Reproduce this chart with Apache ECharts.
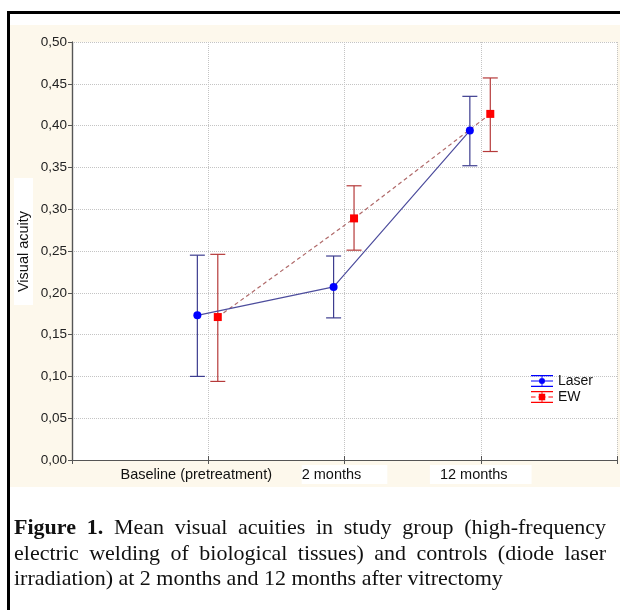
<!DOCTYPE html>
<html lang="en">
<head>
  <meta charset="UTF-8">
  <title>Visual acuity</title>
  <script src="https://cdn.jsdelivr.net/npm/echarts@6/dist/echarts.min.js"></script>
  <style>
    body { margin: 0; background: #fff; }
    #frame {
      position: absolute; left: 7px; top: 11px; width: 613px; height: 599px;
      border-left: 3px solid #000; border-top: 3px solid #000;
    }
    #cream {
      position: absolute; left: 10px; top: 25px; width: 610px; height: 462px;
      background: #fdf8ec;
    }
    #chart { position: absolute; left: 0; top: 0; width: 620px; height: 610px; }
    #caption {
      position: absolute; left: 14px; top: 514px; width: 592px;
      font-family: "Liberation Serif", "Times New Roman", serif;
      font-size: 22px; line-height: 25.5px; color: #111;
      text-align: justify;
    }
  </style>
</head>
<body>
  <div id="frame"></div>
  <div id="cream"></div>
  <div id="chart"></div>
  <div id="caption"><b>Figure 1.</b> Mean visual acuities in study group (high-frequency electric welding of biological tissues) and controls (diode laser irradiation) at 2 months and 12 months after vitrectomy</div>

  <script>
    // data
    var categories = ['Baseline (pretreatment)', '2 months', '12 months'];
    var laserMean = [0.173, 0.207, 0.394];
    var laserLow = [0.100, 0.170, 0.352];
    var laserHigh = [0.245, 0.244, 0.435];
    var ewMean = [0.171, 0.289, 0.414];
    var ewLow = [0.094, 0.251, 0.369];
    var ewHigh = [0.246, 0.328, 0.457];

    // groups sit at x = 1, 2, 3; the two series are dodged a little
    var laserShift = -0.08;
    var ewShift = 0.07;

    function points(mean, shift) {
      return mean.map(function (v, i) { return [i + 1 + shift, v]; });
    }
    function bars(low, high, shift) {
      return low.map(function (v, i) { return [i + 1 + shift, v, high[i]]; });
    }

    function errorBar(color) {
      return function (params, api) {
        var x = api.value(0);
        var lo = api.coord([x, api.value(1)]);
        var hi = api.coord([x, api.value(2)]);
        var w = 7.5;
        var st = { stroke: color, lineWidth: 1.2 };
        return {
          type: 'group',
          children: [
            { type: 'line', shape: { x1: lo[0], y1: lo[1], x2: hi[0], y2: hi[1] }, style: st },
            { type: 'line', shape: { x1: hi[0] - w, y1: hi[1], x2: hi[0] + w, y2: hi[1] }, style: st },
            { type: 'line', shape: { x1: lo[0] - w, y1: lo[1], x2: lo[0] + w, y2: lo[1] }, style: st }
          ]
        };
      };
    }

    // legend icons: error bar with the marker on it
    var laserIcon = 'path://M0,0H24V1.3H0Z M0,11.7H24V13H0Z M0,6H24V7H0Z M11.5,0H12.5V13H11.5Z M12,3.2A3.3,3.3 0 1,1 11.99,3.2Z';
    var ewIcon = 'path://M0,0H24V1.3H0Z M0,11.7H24V13H0Z M0,6H5V7H0Z M8,6H16V7H8Z M19,6H24V7H19Z M11.5,0H12.5V13H11.5Z M8.5,3H15.5V10H8.5Z';

    var chart = echarts.init(document.getElementById('chart'));
    var font = 'Liberation Sans, Arial, sans-serif';

    // per-label boxes: the picture has white patches behind two of the labels
    var labelRich = {
      a: { padding: [2, 24, 2, 0], fontFamily: font, fontSize: 14.5, color: '#111' },
      b: { backgroundColor: '#fff', padding: [2, 26, 2, 0], fontFamily: font, fontSize: 14.5, color: '#111' },
      c: { backgroundColor: '#fff', padding: [2, 24, 2, 10], fontFamily: font, fontSize: 14.5, color: '#111' }
    };

    chart.setOption({
      animation: false,
      backgroundColor: 'transparent',
      grid: { left: 72, top: 42, right: 3, bottom: 150, show: true, backgroundColor: '#fff', borderWidth: 0 },
      legend: {
        left: 531, top: 374, orient: 'vertical', itemGap: 2, padding: 0,
        itemWidth: 22, itemHeight: 12,
        textStyle: { fontFamily: font, fontSize: 14, color: '#111' },
        data: [
          { name: 'Laser', icon: laserIcon },
          { name: 'EW', icon: ewIcon }
        ]
      },
      graphic: [
        { type: 'rect', left: 14, top: 178, shape: { width: 19, height: 127 }, style: { fill: '#fff' }, z: 10 },
        {
          type: 'text', x: 23.5, y: 251.5, rotation: Math.PI / 2, z: 11,
          style: { text: 'Visual acuity', font: '14.5px ' + font, fill: '#111', align: 'center', verticalAlign: 'middle' }
        }
      ],
      xAxis: [{
        type: 'value', min: 0, max: 4, interval: 1,
        axisLine: { lineStyle: { color: '#555', width: 1.2 } },
        axisTick: { inside: true, length: 4, lineStyle: { color: '#555' } },
        splitLine: { show: true, lineStyle: { color: '#c4c4c4', type: 'dotted' } },
        axisLabel: {
          margin: 5,
          formatter: function (v) {
            var c = categories[v - 1];
            if (!c) return '';
            return '{' + 'abc'[v - 1] + '|' + c + '}';
          },
          rich: labelRich
        }
      }, {
        type: 'value', min: 0, max: 4, interval: 1, position: 'top',
        axisLine: { show: true, lineStyle: { color: '#555', width: 1.2 } },
        axisTick: { inside: true, length: 4, lineStyle: { color: '#555' } },
        axisLabel: { show: false }, splitLine: { show: false }
      }],
      yAxis: [{
        type: 'value', min: 0, max: 0.5, interval: 0.05,
        axisLine: { show: true, lineStyle: { color: '#555', width: 1.2 } },
        axisTick: { show: true, length: 4, lineStyle: { color: '#555' } },
        splitLine: { show: true, lineStyle: { color: '#c4c4c4', type: 'dotted' } },
        axisLabel: {
          margin: 5, fontFamily: font, fontSize: 13.5, color: '#222',
          formatter: function (v) { return v.toFixed(2).replace('.', ','); }
        }
      }, {
        type: 'value', min: 0, max: 0.5, interval: 0.1, position: 'right',
        axisLine: { show: true, lineStyle: { color: '#555', width: 1.2 } },
        axisTick: { inside: true, length: 4, lineStyle: { color: '#555' } },
        axisLabel: { show: false }, splitLine: { show: false }
      }],
      series: [
        {
          name: 'Laser', type: 'line', data: points(laserMean, laserShift),
          symbol: 'circle', symbolSize: 8, z: 4,
          itemStyle: { color: '#0000ff' },
          lineStyle: { color: '#4d4d9d', width: 1.2 }
        },
        {
          name: 'EW', type: 'line', data: points(ewMean, ewShift),
          symbol: 'rect', symbolSize: 8, z: 3,
          itemStyle: { color: '#ff0000' },
          lineStyle: { color: '#b06a6a', width: 1.2, type: [4, 3] }
        },
        {
          name: 'Laser', type: 'custom', renderItem: errorBar('#3d3d8f'),
          itemStyle: { color: '#0000ff' },
          data: bars(laserLow, laserHigh, laserShift), z: 2, silent: true
        },
        {
          name: 'EW', type: 'custom', renderItem: errorBar('#b53a3a'),
          itemStyle: { color: '#ff0000' },
          data: bars(ewLow, ewHigh, ewShift), z: 2, silent: true
        }
      ]
    });
  </script>
</body>
</html>
